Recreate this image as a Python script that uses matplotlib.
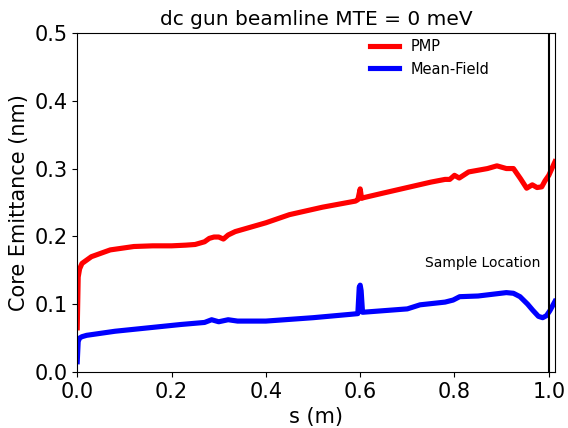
import matplotlib
matplotlib.use('Agg')
import matplotlib.pyplot as plt
import numpy as np

# s positions (m) and core emittance (nm)
s_pmp = [0.0, 0.002, 0.005, 0.01, 0.02, 0.03, 0.05, 0.07, 0.1, 0.12, 0.16, 0.2, 0.23, 0.25,
         0.27, 0.28, 0.29, 0.3, 0.31, 0.32, 0.335, 0.35, 0.4, 0.45, 0.52, 0.59, 0.595, 0.6,
         0.603, 0.607, 0.65, 0.7, 0.75, 0.78, 0.79, 0.8, 0.81, 0.83, 0.87, 0.89, 0.91, 0.925,
         0.94, 0.953, 0.965, 0.975, 0.985, 0.992, 1.0, 1.013]
emit_pmp = [0.065, 0.14, 0.152, 0.16, 0.165, 0.17, 0.175, 0.18, 0.183, 0.185, 0.186, 0.186, 0.187, 0.188,
            0.192, 0.197, 0.199, 0.199, 0.196, 0.202, 0.207, 0.21, 0.22, 0.232, 0.243, 0.252, 0.254, 0.27,
            0.256, 0.257, 0.264, 0.272, 0.28, 0.284, 0.284, 0.29, 0.286, 0.295, 0.3, 0.304, 0.3, 0.3,
            0.285, 0.271, 0.276, 0.272, 0.273, 0.282, 0.29, 0.31]

s_mf = [0.0, 0.002, 0.005, 0.01, 0.02, 0.05, 0.08, 0.15, 0.22, 0.27, 0.285, 0.3, 0.32, 0.34,
        0.4, 0.5, 0.58, 0.595, 0.598, 0.6, 0.602, 0.605, 0.7, 0.727, 0.78, 0.797, 0.811, 0.85,
        0.91, 0.925, 0.939, 0.955, 0.966, 0.978, 0.987, 0.995, 1.002, 1.013]
emit_mf = [0.015, 0.045, 0.05, 0.052, 0.054, 0.057, 0.06, 0.065, 0.07, 0.073, 0.077, 0.074, 0.077, 0.075,
           0.075, 0.08, 0.085, 0.086, 0.125, 0.128, 0.12, 0.088, 0.093, 0.099, 0.103, 0.106, 0.111, 0.112,
           0.117, 0.116, 0.111, 0.1, 0.091, 0.082, 0.08, 0.083, 0.09, 0.104]

sample_s = 1.0

fig = plt.figure(figsize=(5.68, 4.28), dpi=100)
ax = fig.add_axes([0.136, 0.131, 0.841, 0.792])

ax.plot(s_pmp, emit_pmp, color='red', linewidth=3.7, label='PMP')
ax.plot(s_mf, emit_mf, color='blue', linewidth=3.7, label='Mean-Field')
ax.axvline(sample_s, color='black', linewidth=1.5)
ax.text(0.737, 0.155, 'Sample Location', fontsize=10)

ax.set_xlim(0, 1.013)
ax.set_ylim(0, 0.5)
ax.set_xticks(np.arange(0, 1.01, 0.2))
ax.set_yticks(np.arange(0, 0.51, 0.1))
ax.tick_params(labelsize=15)
ax.set_xlabel('s (m)', fontsize=15)
ax.set_ylabel('Core Emittance (nm)', fontsize=15)
ax.set_title('dc gun beamline MTE = 0 meV', fontsize=14.5)
ax.legend(loc='upper right', bbox_to_anchor=(0.89, 1.02), frameon=False, fontsize=10.5)

fig.savefig('out.png', dpi=100)
